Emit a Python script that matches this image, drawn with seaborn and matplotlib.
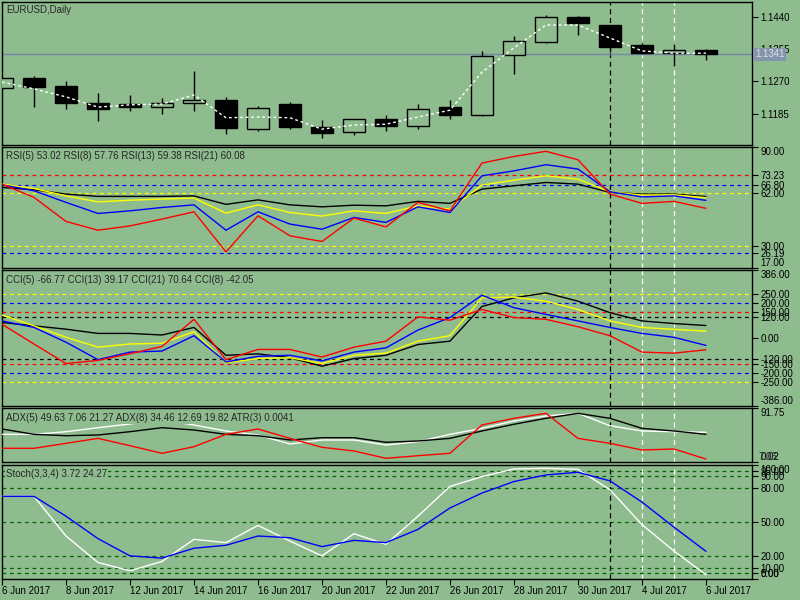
import numpy as np
import matplotlib
matplotlib.use("Agg")
import matplotlib.pyplot as plt
import seaborn as sns

# bar dates (daily EURUSD)
dates = ["6 Jun 2017", "7 Jun 2017", "8 Jun 2017", "9 Jun 2017", "12 Jun 2017",
         "13 Jun 2017", "14 Jun 2017", "15 Jun 2017", "16 Jun 2017", "19 Jun 2017",
         "20 Jun 2017", "21 Jun 2017", "22 Jun 2017", "23 Jun 2017", "26 Jun 2017",
         "27 Jun 2017", "28 Jun 2017", "29 Jun 2017", "30 Jun 2017", "3 Jul 2017",
         "4 Jul 2017", "5 Jul 2017", "6 Jul 2017"]

# OHLC
opens = [1.1253, 1.1278, 1.1258, 1.1212, 1.1209, 1.1203, 1.1212, 1.1221, 1.1145, 1.1209,
         1.1149, 1.1137, 1.1171, 1.1153, 1.1202, 1.1182, 1.1338, 1.1374, 1.1439, 1.1418,
         1.1366, 1.1344, 1.1352]
highs = [1.1280, 1.1284, 1.1271, 1.1238, 1.1233, 1.1225, 1.1297, 1.1229, 1.1205, 1.1215,
         1.1168, 1.1171, 1.1181, 1.1210, 1.1221, 1.1351, 1.1389, 1.1444, 1.1443, 1.1418,
         1.1372, 1.1368, 1.1356]
lows = [1.1250, 1.1203, 1.1196, 1.1166, 1.1193, 1.1185, 1.1193, 1.1132, 1.1140, 1.1145,
        1.1122, 1.1129, 1.1140, 1.1145, 1.1172, 1.1179, 1.1290, 1.1372, 1.1391, 1.1346,
        1.1343, 1.1311, 1.1326]
closes = [1.1278, 1.1256, 1.1214, 1.1196, 1.1203, 1.1212, 1.1221, 1.1148, 1.1199, 1.1150,
          1.1135, 1.1170, 1.1153, 1.1197, 1.1182, 1.1336, 1.1375, 1.1439, 1.1423, 1.1361,
          1.1344, 1.1352, 1.1341]
ma_price = [1.1268, 1.1250, 1.1229, 1.1202, 1.1208, 1.1210, 1.1234, 1.1174, 1.1176, 1.1174,
            1.1144, 1.1155, 1.1157, 1.1176, 1.1194, 1.1294, 1.1358, 1.1418, 1.1418, 1.1384,
            1.1350, 1.1344, 1.1344]
last_price = 1.1341

# RSI
rsi5 = [67.6, 59.6, 45.1, 39.8, 42.4, 46.5, 50.9, 26.7, 48.5, 36.4, 33.0, 47.1, 41.8,
        56.6, 51.5, 80.3, 84.3, 87.4, 82.3, 61.6, 56.0, 57.2, 53.0]
rsi8 = [67.2, 63.6, 56.6, 49.9, 51.5, 53.5, 55.1, 39.8, 50.9, 43.5, 40.4, 47.5, 44.5,
        53.9, 50.5, 72.6, 75.6, 79.3, 76.7, 63.0, 59.9, 60.5, 57.8]
rsi13 = [67.6, 65.0, 60.5, 56.9, 57.9, 58.6, 59.2, 50.1, 55.1, 50.5, 48.3, 51.5, 49.9,
         54.5, 52.5, 67.0, 70.0, 72.6, 70.6, 63.0, 61.0, 61.2, 59.4]
rsi21 = [65.6, 64.2, 61.6, 60.2, 60.2, 60.2, 60.5, 55.4, 58.1, 55.1, 53.9, 54.9, 54.5,
         57.2, 56.0, 64.6, 66.6, 68.6, 67.6, 62.6, 61.6, 61.6, 60.1]
rsi_levels = [(73.23, "red"), (66.80, "blue"), (62.00, "yellow"), (30.00, "yellow"), (26.19, "blue")]
rsi_ticks = [17, 26.19, 30, 62, 66.8, 73.23, 90]

# CCI
cci5 = [78, -34, -145, -127, -89, -48, 106, -123, -65, -65, -108, -52, -18,
        120, 101, 162, 116, 106, 64, 13, -80, -86, -67]
cci8 = [97, 60, -24, -123, -80, -74, 13, -136, -104, -98, -130, -80, -56,
        45, 116, 243, 172, 134, 97, 60, 26, 4, -42]
cci13 = [131, 69, 4, -52, -34, -30, 36, -140, -117, -112, -145, -98, -86,
         -18, 13, 228, 232, 209, 162, 97, 60, 49, 39]
cci21 = [88, 69, 50, 26, 26, 17, 60, -98, -90, -112, -160, -117, -98,
         -37, -18, 179, 228, 256, 209, 144, 97, 82, 71]
cci_levels = [(250, "yellow"), (200, "blue"), (150, "red"), (120, "black"),
              (-120, "black"), (-150, "red"), (-200, "blue"), (-250, "yellow")]
cci_ticks = [-386, -250, -200, -150, -120, 0, 120, 150, 200, 250, 386]

# ADX / ATR panel
adx_black = [56.1, 47.0, 44.7, 45.9, 51.5, 58.3, 54.4, 47.0, 44.7, 37.4, 41.3, 41.3, 33.5,
             35.7, 40.2, 52.7, 64.1, 74.2, 82.7, 74.2, 57.2, 52.7, 47.0]
adx_white = [47.0, 47.0, 51.5, 58.3, 64.6, 71.4, 62.9, 52.7, 45.9, 30.6, 37.4, 37.4, 28.9,
             34.5, 47.0, 57.2, 69.7, 78.2, 82.7, 61.7, 52.7, 51.5, 50.5]
adx_red = [23.3, 23.3, 31.7, 40.2, 27.7, 14.8, 26.0, 47.0, 56.1, 40.2, 25.0, 18.7, 6.3,
           10.7, 14.8, 62.9, 74.2, 82.7, 40.2, 31.7, 20.4, 22.1, 5.1]

# Stochastic
stoch_main = [72.5, 72.5, 37.7, 14.5, 7.2, 15.4, 34.8, 31.9, 47.0, 33.3, 20.3, 39.7, 30.4,
              55.1, 81.2, 89.8, 96.5, 97.1, 96.2, 78.3, 47.8, 24.6, 3.7]
stoch_signal = [72.5, 72.5, 55.1, 35.4, 20.3, 18.3, 27.0, 29.6, 37.7, 36.2, 28.4, 33.9, 31.9,
                43.5, 62.3, 75.4, 85.5, 91.3, 93.6, 86.1, 67.5, 45.5, 24.3]
stoch_ticks = [0, 5, 10, 20, 50, 80, 90, 95, 100]

BG = "#8FBC8F"
FS = 7

sns.set_style("ticks")
plt.rcParams["font.family"] = ["Liberation Sans", "DejaVu Sans"]

fig = plt.figure(figsize=(8, 6), dpi=100, facecolor=BG)
x = np.arange(len(dates))


def make_panel(top, bottom):
    ax = fig.add_axes([2 / 800, 1 - bottom / 600, 750 / 800, (bottom - top) / 600])
    ax.set_facecolor(BG)
    for s in ax.spines.values():
        s.set_color("black")
        s.set_linewidth(1)
    ax.yaxis.tick_right()
    ax.tick_params(axis="y", labelsize=FS, length=4, width=0.8, pad=2, colors="black")
    ax.set_xlim(0, 23.44)
    ax.set_xticks([])
    # marker lines at 3 Jul (black) and 4/5 Jul (white)
    ax.axvline(19, color="black", ls=(0, (4, 3)), lw=0.9, zorder=1.5)
    ax.axvline(20, color="white", ls=(0, (4, 3)), lw=0.9, zorder=1.5)
    ax.axvline(21, color="white", ls=(0, (4, 3)), lw=0.9, zorder=1.5)
    return ax


def title(ypix, txt):
    fig.text(6 / 800, 1 - ypix / 600, txt, fontsize=FS, va="center", ha="left", zorder=10,
             bbox=dict(facecolor=BG, edgecolor="none", pad=0.8))


def edge_labels(ax):
    labels = ax.get_yticklabels()
    labels[0].set_va("bottom")
    labels[-1].set_va("top")


# price panel
ax_p = make_panel(2, 145)
ax_p.set_ylim(1.11023, 1.14787)
o, h, l, c = map(np.array, (opens, highs, lows, closes))
ax_p.vlines(x, l, h, color="black", lw=1, zorder=2)
bull = c >= o
ax_p.bar(x, np.abs(c - o), bottom=np.minimum(o, c), width=0.7,
         color=np.where(bull, BG, "black"), edgecolor="black", linewidth=1, zorder=3)
sns.lineplot(x=x, y=ma_price, ax=ax_p, color="white", lw=1, zorder=4)
ax_p.lines[-1].set_linestyle((0, (2, 2)))
ax_p.axhline(last_price, color="#7585A5", lw=1, zorder=1.8)
ax_p.set_yticks([1.1185, 1.1270, 1.1355, 1.1440])
ax_p.set_yticklabels(["1.1185", "1.1270", "1.1355", "1.1440"])
ax_p.text(1.004, last_price, f"{last_price:.4f}", transform=ax_p.get_yaxis_transform(),
          fontsize=FS, color="#DDE2EA", va="center", ha="left", clip_on=False, zorder=10,
          bbox=dict(facecolor="#8494AC", edgecolor="none", pad=1.2))
ax_p.set_ylabel("")
title(9.7, "EURUSD,Daily")

# RSI panel
ax_r = make_panel(147, 268)
ax_r.set_ylim(17, 90)
for lv, col in rsi_levels:
    ax_r.axhline(lv, color=col, ls=(0, (3, 3)), lw=0.9, zorder=1)
for vals, col in [(rsi21, "black"), (rsi13, "yellow"), (rsi8, "blue"), (rsi5, "red")]:
    sns.lineplot(x=x, y=vals, ax=ax_r, color=col, lw=1, zorder=3)
ax_r.set_yticks(rsi_ticks)
ax_r.set_yticklabels([f"{t:.2f}" for t in rsi_ticks])
edge_labels(ax_r)
title(155.7, "RSI(5) 53.02 RSI(8) 57.76 RSI(13) 59.38 RSI(21) 60.08")

# CCI panel
ax_c = make_panel(270, 406)
ax_c.set_ylim(-386, 386)
for lv, col in cci_levels:
    ax_c.axhline(lv, color=col, ls=(0, (3, 3)), lw=0.9, zorder=1)
for vals, col in [(cci21, "black"), (cci13, "yellow"), (cci8, "blue"), (cci5, "red")]:
    sns.lineplot(x=x, y=vals, ax=ax_c, color=col, lw=1, zorder=3)
ax_c.set_yticks(cci_ticks)
ax_c.set_yticklabels([f"{t:.2f}" for t in cci_ticks])
edge_labels(ax_c)
title(279.7, "CCI(5) -66.77 CCI(13) 39.17 CCI(21) 70.64 CCI(8) -42.05")

# ADX panel
ax_a = make_panel(408, 462)
ax_a.set_ylim(0.02, 91.75)
for vals, col in [(adx_white, "white"), (adx_black, "black"), (adx_red, "red")]:
    sns.lineplot(x=x, y=vals, ax=ax_a, color=col, lw=1, zorder=3)
ax_a.set_yticks([0.02, 91.75])
ax_a.set_yticklabels(["0.02", "91.75"])
edge_labels(ax_a)
ax_a.text(1.0 + 6 / 750, 0.02, "7.06", transform=ax_a.get_yaxis_transform(), fontsize=FS,
          va="bottom", ha="left", clip_on=False)
title(417.7, "ADX(5) 49.63 7.06 21.27 ADX(8) 34.46 12.69 19.82 ATR(3) 0.0041")

# Stochastic panel
ax_s = make_panel(465, 579)
ax_s.set_ylim(0, 100)
for lv in [5, 10, 20, 50, 80, 90, 95]:
    ax_s.axhline(lv, color="#006400", ls=(0, (3, 3)), lw=0.9, zorder=1)
sns.lineplot(x=x, y=stoch_main, ax=ax_s, color="white", lw=1, zorder=3)
sns.lineplot(x=x, y=stoch_signal, ax=ax_s, color="blue", lw=1, zorder=3)
ax_s.set_yticks(stoch_ticks)
ax_s.set_yticklabels([f"{t:.2f}" for t in stoch_ticks])
edge_labels(ax_s)
title(474.3, "Stoch(3,3,4) 3.72 24.27")

# date axis on the bottom panel, every second bar
ax_s.set_xticks(x[::2])
ax_s.set_xticklabels(dates[::2], ha="left")
ax_s.tick_params(axis="x", labelsize=FS, length=4, width=0.8, pad=1, colors="black")
ax_s.set_xlim(0, 23.44)

for ax in (ax_p, ax_r, ax_c, ax_a, ax_s):
    ax.set_xlabel("")
    ax.set_ylabel("")

fig.savefig("out.png", dpi=100, facecolor=BG)
